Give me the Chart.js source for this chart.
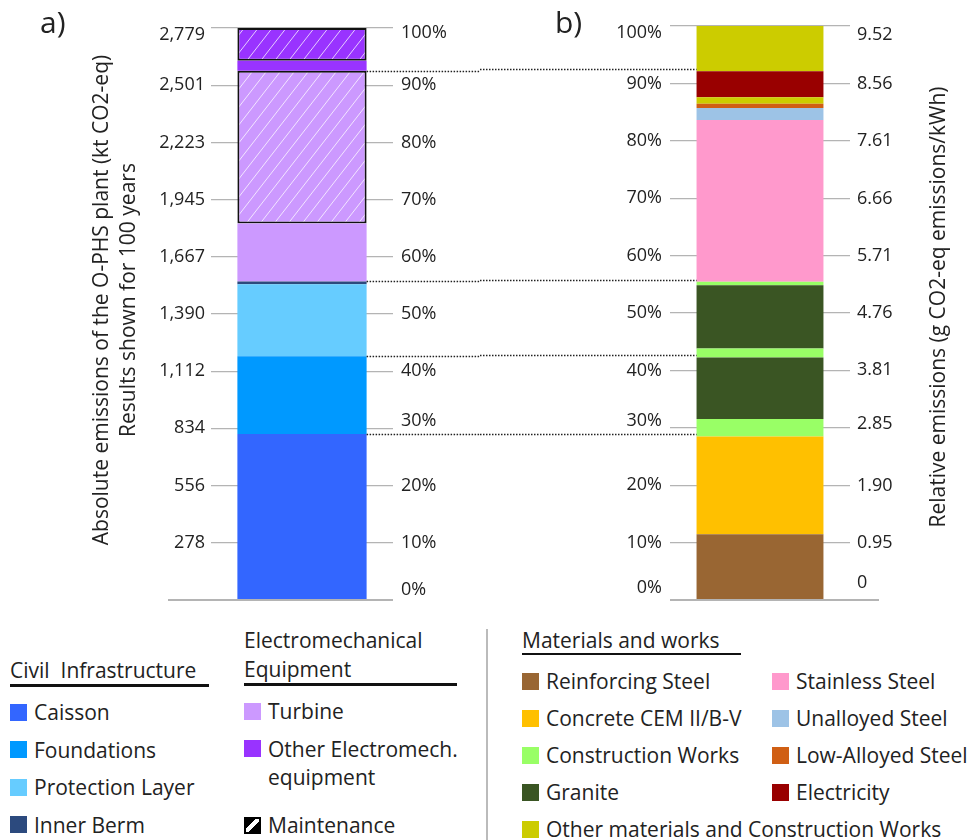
<!DOCTYPE html>
<html lang="en">
<head>
<meta charset="UTF-8" />
<title>O-PHS emisiones</title>
<script src="https://cdn.jsdelivr.net/npm/chart.js"></script>
<style>
  body { margin: 0; background: #fff; font-family: "Open Sans", sans-serif; color: #222; }
  #figura { position: relative; width: 971px; height: 840px; overflow: hidden; }
  .panel { position: absolute; top: 0; height: 620px; }
  #panel-a { left: 0; width: 480px; }
  #panel-b { left: 480px; width: 491px; }
  .letra { position: absolute; top: 0; font-size: 30px; line-height: 44px; }
  .grupo { position: absolute; font-size: 21px; line-height: 28px; }
  .titulo-grupo { position: absolute; font-size: 21px; border-bottom: 3px solid #111; white-space: pre; }
  .item { position: relative; padding-left: 24px; margin-bottom: 9.5px; white-space: nowrap; }
  .item .muestra { position: absolute; left: 0; top: 5.5px; width: 17px; height: 17px; }
  .divisor { position: absolute; left: 486px; top: 629px; width: 2px; height: 211px; background: #bbb; }
  #leyenda-materiales { display: grid; grid-template-rows: repeat(5, 37px); grid-auto-flow: column; grid-template-columns: 250px 200px; }
  #leyenda-materiales .item { margin-bottom: 0; }
</style>
</head>
<body>
<div id="figura">
  <div class="panel" id="panel-a"><canvas id="graficoA" width="480" height="620"></canvas></div>
  <div class="panel" id="panel-b"><canvas id="graficoB" width="491" height="620"></canvas></div>
  <div class="letra" style="left:40px;">a)</div>
  <div class="letra" style="left:555px;">b)</div>

  <!-- leyenda -->
  <div class="titulo-grupo" style="left:10px; top:656px; width:199px; line-height:28px;">Civil  Infrastructure</div>
  <div class="grupo" id="leyenda-civil" style="left:10px; top:698px;"></div>

  <div class="titulo-grupo" style="left:244px; top:626px; width:213px; line-height:28.6px;">Electromechanical
Equipment</div>
  <div class="grupo" id="leyenda-electro" style="left:244px; top:697px; width:225px;"></div>
  <div class="grupo" style="left:244px; top:811px;">
    <div class="item"><span class="muestra" style="box-sizing:border-box; border:2px solid #000; background:linear-gradient(135deg,#000 38%,#fff 38%,#fff 60%,#000 60%);"></span>Maintenance</div>
  </div>

  <div class="divisor"></div>

  <div class="titulo-grupo" style="left:522px; top:627px; width:219px; line-height:26px; border-bottom-width:2px;">Materials and works</div>
  <div class="grupo" id="leyenda-materiales" style="left:522px; top:667px;"></div>
</div>

<script>
// ---------- Panel a: emisiones absolutas (kt CO2-eq, 100 años) ----------
const partesNombres = ['Caisson', 'Foundations', 'Protection Layer', 'Inner Berm', 'Turbine', 'Other Electromech. equipment'];
const partesColores = ['#3366ff', '#0099ff', '#66ccff', '#2c4a7e', '#cc99ff', '#9933ff'];
const grupoCivil = [0, 1, 2, 3];
const grupoElectro = [4, 5];
// tramos de la barra, de abajo hacia arriba
const tramosA = [0, 1, 2, 3, 4, 4, 5, 5];
const mantenimientoA = [false, false, false, false, false, true, false, true];
const valoresA = [806, 378, 350, 14, 281, 742, 49, 159];
const ticksKt = [0, 278, 556, 834, 1112, 1390, 1667, 1945, 2223, 2501, 2779];
const etiquetasKt = ['', '278', '556', '834', '1,112', '1,390', '1,667', '1,945', '2,223', '2,501', '2,779'];
const ticksPct = [0, 10, 20, 30, 40, 50, 60, 70, 80, 90, 100];
const enlacesA = [0, 1, 3, 5]; // tramos cuyo borde superior se prolonga hasta el panel b
const tituloA = ['Absolute emissions of the O-PHS plant (kt CO2-eq)', 'Results shown for 100 years'];

// ---------- Panel b: emisiones relativas (g CO2-eq/kWh) ----------
const materiales = ['Reinforcing Steel', 'Concrete CEM II/B-V', 'Construction Works', 'Granite',
  'Other materials and Construction Works', 'Stainless Steel', 'Unalloyed Steel', 'Low-Alloyed Steel', 'Electricity'];
const materialesColores = ['#996633', '#ffc000', '#99ff66', '#3a5523', '#cccc00', '#ff99cc', '#9dc3e6', '#d05f14', '#990000'];
const tramosB = [0, 1, 2, 3, 2, 3, 2, 5, 6, 7, 4, 8, 4];
const valoresB = [1.09, 1.62, 0.29, 1.02, 0.15, 1.05, 0.06, 2.68, 0.20, 0.07, 0.11, 0.43, 0.75];
const ticksG = [0, 0.95, 1.90, 2.85, 3.81, 4.76, 5.71, 6.66, 7.61, 8.56, 9.52];
const etiquetasG = ['0', '0.95', '1.90', '2.85', '3.81', '4.76', '5.71', '6.66', '7.61', '8.56', '9.52'];
const tituloB = ['Relative emissions (g CO2-eq emissions/kWh)'];

Chart.defaults.font.family = '"Open Sans", sans-serif';
Chart.defaults.color = '#222';
const colorRejilla = '#b4b4b4';

// en el original algunas etiquetas no están centradas en su línea
// (px, negativo = hacia arriba), índice = posición del tick
const ajusteKt  = [0, 0, 0, 0, 0, 0, 0, 0, 0, 0, 7];
const ajustePctA = [-10, 0, 0, -8, 0, 0, 0, 0, 0, 0, 5];
const ajustePctB = [-12, 0, 0, -7, 0, 0, 0, 0, 0, 0, 7];
const ajusteG   = [-17, 0, 0, -4, 0, 0, 0, 0, 0, 0, 9];

// etiqueta de dos líneas para mover el texto arriba/abajo de su tick
function etiqueta(texto, dy) {
  if (!dy) return texto;
  return dy < 0 ? [texto, ''] : ['', texto];
}
function fuenteTick(ajustes) {
  return c => ({ size: 18, lineHeight: ajustes[c.index] ? (2 * Math.abs(ajustes[c.index])) + 'px' : 1.2 });
}
// ancho fijo del eje y sin relleno extra arriba/abajo
function ajustarEje(ancho) {
  return s => {
    s.width = ancho;
    s.paddingTop = 0;
    s.paddingBottom = 0;
  };
}

// relleno rayado para los tramos de mantenimiento
function rayado(color) {
  const c = document.createElement('canvas');
  c.width = 14; c.height = 18;
  const g = c.getContext('2d');
  g.fillStyle = color;
  g.fillRect(0, 0, c.width, c.height);
  g.strokeStyle = 'rgba(255,255,255,0.75)';
  g.lineWidth = 1;
  [-c.width, 0, c.width].forEach(dx => {
    g.beginPath();
    g.moveTo(dx, c.height);
    g.lineTo(dx + c.width, 0);
    g.stroke();
  });
  return g.createPattern(c, 'repeat');
}

// línea base que sobresale de la rejilla
const lineaBase = {
  id: 'lineaBase',
  afterDraw(chart, args, opts) {
    const { ctx, chartArea } = chart;
    ctx.save();
    ctx.strokeStyle = colorRejilla;
    ctx.lineWidth = 2;
    ctx.beginPath();
    ctx.moveTo(chartArea.left - opts.izq, chartArea.bottom);
    ctx.lineTo(chartArea.right + opts.der, chartArea.bottom);
    ctx.stroke();
    ctx.restore();
  }
};

// títulos de eje girados (se leen de abajo hacia arriba)
const tituloLateral = {
  id: 'tituloLateral',
  afterDraw(chart, args, opts) {
    const { ctx } = chart;
    ctx.save();
    ctx.fillStyle = '#222';
    ctx.font = '21px "Open Sans", sans-serif';
    ctx.textAlign = 'center';
    ctx.textBaseline = 'middle';
    opts.lineas.forEach((txt, i) => {
      ctx.save();
      ctx.translate(opts.x + i * opts.interlinea, opts.y);
      ctx.rotate(-Math.PI / 2);
      ctx.fillText(txt, 0, 0);
      ctx.restore();
    });
    ctx.restore();
  }
};

// líneas punteadas que unen ambos paneles
function acumuladosEnlace() {
  const total = valoresA.reduce((a, b) => a + b, 0);
  let suma = 0;
  const cortes = [];
  valoresA.forEach((v, i) => {
    suma += v;
    if (enlacesA.includes(i)) cortes.push(suma / total);
  });
  return cortes;
}
const enlaces = {
  id: 'enlaces',
  afterDatasetsDraw(chart, args, opts) {
    const { ctx } = chart;
    const barra = chart.getDatasetMeta(0).data[0];
    const escala = chart.scales[opts.eje];
    ctx.save();
    ctx.strokeStyle = '#222';
    ctx.lineWidth = 1.6;
    ctx.setLineDash([1.5, 1.5]);
    acumuladosEnlace().forEach(f => {
      const y = Math.round(escala.getPixelForValue(f * escala.max)) + 0.5;
      ctx.beginPath();
      if (opts.lado === 'derecha') {
        ctx.moveTo(barra.x + barra.width / 2, y);
        ctx.lineTo(chart.width, y);
      } else {
        ctx.moveTo(0, y);
        ctx.lineTo(barra.x - barra.width / 2, y);
      }
      ctx.stroke();
    });
    ctx.restore();
  }
};

const datasetsA = valoresA.map((v, i) => ({
  label: partesNombres[tramosA[i]] + (mantenimientoA[i] ? ' (maintenance)' : ''),
  data: [v],
  backgroundColor: mantenimientoA[i] ? rayado(partesColores[tramosA[i]]) : partesColores[tramosA[i]],
  borderColor: '#111',
  borderWidth: mantenimientoA[i] ? 2 : 0,
  borderSkipped: false,
  barPercentage: 1,
  categoryPercentage: 0.71
}));

const datasetsB = valoresB.map((v, i) => ({
  label: materiales[tramosB[i]],
  data: [v],
  yAxisID: 'g',
  backgroundColor: materialesColores[tramosB[i]],
  borderWidth: 0,
  barPercentage: 1,
  categoryPercentage: 0.705
}));

new Chart(document.getElementById('graficoA'), {
  type: 'bar',
  data: { labels: [''], datasets: datasetsA },
  plugins: [lineaBase, tituloLateral, enlaces],
  options: {
    responsive: false,
    animation: false,
    devicePixelRatio: 1,
    layout: { padding: { top: 28, bottom: 20, left: 0, right: 0 } },
    plugins: {
      legend: { display: false },
      tooltip: { enabled: false },
      lineaBase: { izq: 43, der: 0 },
      tituloLateral: { lineas: tituloA, x: 102, interlinea: 27, y: 300 },
      enlaces: { eje: 'y', lado: 'derecha' }
    },
    scales: {
      x: { display: false, stacked: true },
      y: {
        stacked: true, min: 0, max: 2779, position: 'left',
        afterBuildTicks: s => { s.ticks = ticksKt.map(v => ({ value: v })); },
        afterFit: ajustarEje(211),
        grid: { color: colorRejilla, lineWidth: 1.2, drawTicks: false },
        border: { display: false },
        ticks: { padding: 6, font: fuenteTick(ajusteKt), autoSkip: false,
                 callback: (v, i) => etiqueta(etiquetasKt[i], ajusteKt[i]) }
      },
      pct: {
        min: 0, max: 100, position: 'right',
        afterBuildTicks: s => { s.ticks = ticksPct.map(v => ({ value: v })); },
        afterFit: ajustarEje(87),
        grid: { display: false, drawTicks: false },
        border: { display: false },
        ticks: { padding: 8, font: fuenteTick(ajustePctA), autoSkip: false,
                 callback: (v, i) => etiqueta(v + '%', ajustePctA[i]) }
      }
    }
  }
});

new Chart(document.getElementById('graficoB'), {
  type: 'bar',
  data: { labels: [''], datasets: datasetsB },
  plugins: [lineaBase, tituloLateral, enlaces],
  options: {
    responsive: false,
    animation: false,
    devicePixelRatio: 1,
    layout: { padding: { top: 26, bottom: 20, left: 0, right: 0 } },
    plugins: {
      legend: { display: false },
      tooltip: { enabled: false },
      lineaBase: { izq: 0, der: 29 },
      tituloLateral: { lineas: tituloB, x: 459, interlinea: 27, y: 307 },
      enlaces: { eje: 'y', lado: 'izquierda' }
    },
    scales: {
      x: { display: false, stacked: true },
      y: {
        min: 0, max: 100, position: 'left',
        afterBuildTicks: s => { s.ticks = ticksPct.map(v => ({ value: v })); },
        afterFit: ajustarEje(190),
        grid: { color: colorRejilla, lineWidth: 1.2, drawTicks: false },
        border: { display: false },
        ticks: { padding: 8, font: fuenteTick(ajustePctB), autoSkip: false,
                 callback: (v, i) => etiqueta(v + '%', ajustePctB[i]) }
      },
      g: {
        stacked: true, min: 0, max: 9.52, position: 'right',
        afterBuildTicks: s => { s.ticks = ticksG.map(v => ({ value: v })); },
        afterFit: ajustarEje(121),
        grid: { display: false, drawTicks: false },
        border: { display: false },
        ticks: { padding: 7, font: fuenteTick(ajusteG), autoSkip: false,
                 callback: (v, i) => etiqueta(etiquetasG[i], ajusteG[i]) }
      }
    }
  }
});

// leyenda en HTML a partir de los mismos arreglos
function itemLeyenda(nombre, color) {
  return `<div class="item"><span class="muestra" style="background:${color}"></span>${nombre}</div>`;
}
document.getElementById('leyenda-civil').innerHTML =
  grupoCivil.map(i => itemLeyenda(partesNombres[i], partesColores[i])).join('');
document.getElementById('leyenda-electro').innerHTML =
  grupoElectro.map(i => itemLeyenda(partesNombres[i], partesColores[i])).join('')
    .replace('Electromech. equipment', 'Electromech.<br>equipment');
document.getElementById('leyenda-materiales').innerHTML =
  materiales.map((m, i) => itemLeyenda(m, materialesColores[i])).join('');
</script>
</body>
</html>
